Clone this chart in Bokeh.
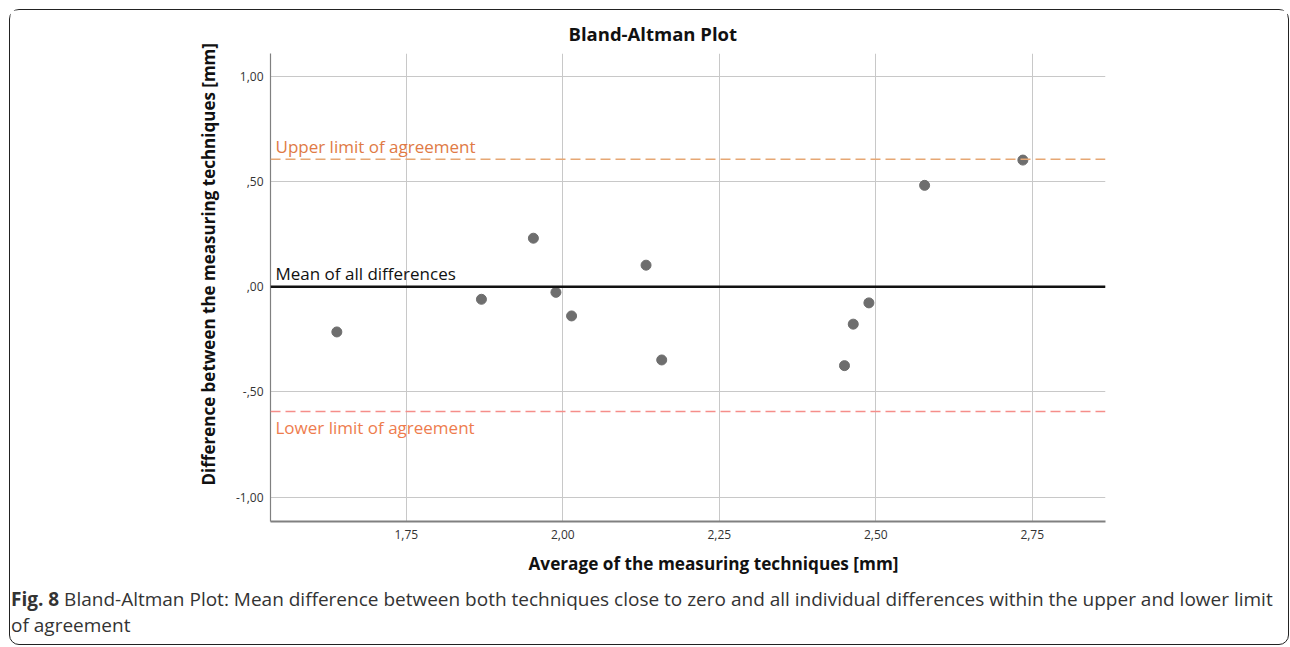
from bokeh.plotting import figure
from bokeh.models import Range1d, FixedTicker, Span, Label, Title, Div
from bokeh.layouts import column
from bokeh.embed import file_html
from bokeh.resources import INLINE

# ---- data ----
avg_mm = [1.639, 1.870, 1.953, 1.989, 2.014, 2.133, 2.158, 2.450, 2.464, 2.489, 2.578, 2.735]
diff_mm = [-0.215, -0.060, 0.230, -0.027, -0.139, 0.102, -0.348, -0.375, -0.178, -0.077, 0.481, 0.601]
mean_diff = 0.0
upper_loa = 0.605
lower_loa = -0.593
x_ticks = [1.75, 2.00, 2.25, 2.50, 2.75]
x_tick_labels = ["1,75", "2,00", "2,25", "2,50", "2,75"]
y_ticks = [-1.0, -0.5, 0.0, 0.5, 1.0]
y_tick_labels = ["-1,00", "-,50", ",00", ",50", "1,00"]

title_text = "Bland-Altman Plot"
x_label = "Average of the measuring techniques [mm]"
y_label = "Difference between the measuring techniques [mm]"
caption_bold = "Fig. 8"
caption_line1 = "Bland-Altman Plot: Mean difference between both techniques close to zero and all individual differences within the upper and lower limit"
caption_line2 = "of agreement"

FONT = "Open Sans"
W, H = 1277, 580
CAP_H = 53

p = figure(width=W, height=H, output_backend="svg", toolbar_location=None,
           x_range=Range1d(1.533, 2.867), y_range=Range1d(-1.115, 1.107),
           min_border_left=260, min_border_right=182, min_border_top=43, min_border_bottom=69)
p.outline_line_color = None
p.background_fill_color = "white"
p.border_fill_color = "white"

# plot title
p.title = Title(text=title_text, align="left", offset=298, text_font=FONT,
                text_font_style="bold", text_font_size="18.5px", text_color="#111111",
                standoff=15)

# axes
for ax in (p.xaxis[0], p.yaxis[0]):
    ax.major_tick_line_color = None
    ax.minor_tick_line_color = None
    ax.major_tick_out = 0
    ax.major_tick_in = 0
    ax.minor_tick_out = 0
    ax.axis_line_color = "#808080"
    ax.major_label_text_font = FONT
    ax.major_label_text_font_size = "12px"
    ax.major_label_text_color = "#333333"

p.xaxis.ticker = FixedTicker(ticks=x_ticks)
p.xaxis.major_label_overrides = dict(zip(x_ticks, x_tick_labels))
p.yaxis.ticker = FixedTicker(ticks=y_ticks)
p.yaxis.major_label_overrides = dict(zip(y_ticks, y_tick_labels))
p.xaxis.axis_line_width = 2
p.yaxis.axis_line_width = 1.2
p.xaxis.major_label_standoff = 8
p.yaxis.major_label_standoff = 7

# axis titles (placed like the reference layout)
p.add_layout(Title(text=x_label, align="left", offset=258, text_font=FONT,
                   text_font_style="bold", text_font_size="17.2px", text_color="#111111",
                   standoff=17), "below")
p.add_layout(Title(text=y_label, align="left", offset=36, text_font=FONT,
                   text_font_style="bold", text_font_size="17px", text_color="#111111",
                   standoff=25), "left")

p.xgrid.grid_line_color = "#c8c8c8"
p.ygrid.grid_line_color = "#c8c8c8"

# reference lines
p.add_layout(Span(location=mean_diff, dimension="width", line_color="#111111", line_width=2.5))
p.add_layout(Span(location=upper_loa, dimension="width", line_color="#e6a774", line_width=1.5,
                  line_dash="10 5"))
p.add_layout(Span(location=lower_loa, dimension="width", line_color="#f58e8a", line_width=1.5,
                  line_dash="10 5"))

p.add_layout(Label(x=1.533, y=upper_loa, x_offset=5, y_offset=13, text="Upper limit of agreement",
                   text_font=FONT, text_font_size="17px", text_color="#e07a45",
                   text_baseline="alphabetic", text_align="left"))
p.add_layout(Label(x=1.533, y=mean_diff, x_offset=5, y_offset=13, text="Mean of all differences",
                   text_font=FONT, text_font_size="17px", text_color="#111111",
                   text_baseline="alphabetic", text_align="left"))
p.add_layout(Label(x=1.533, y=lower_loa, x_offset=5, y_offset=-16, text="Lower limit of agreement",
                   text_font=FONT, text_font_size="17px", text_color="#ee7c4e",
                   text_baseline="alphabetic", text_align="left"))

# points
p.scatter(avg_mm, diff_mm, size=10, fill_color="#6e6e6e", line_color="#6e6e6e")

# caption
cap = Div(text=f"<b>{caption_bold}</b> {caption_line1}<br>{caption_line2}",
          width=W, height=CAP_H,
          styles={"font-family": FONT, "font-size": "19px", "line-height": "26px",
                  "color": "#333333", "white-space": "nowrap",
                  "margin-left": "1px", "margin-top": "-4px"})

root = column(p, cap, spacing=0, width=W + 3, height=636, sizing_mode="fixed",
              styles={"border": "1.5px solid #222222", "border-radius": "10px",
                      "margin-left": "9px", "margin-top": "9px", "background": "white"})

open("out.html", "w").write(file_html(root, INLINE))
